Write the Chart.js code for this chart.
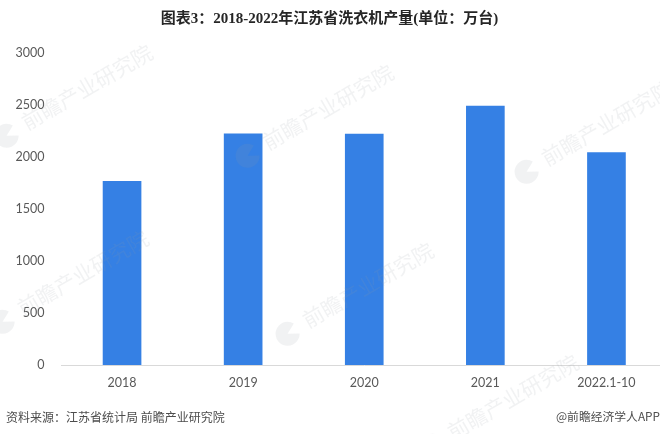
<!DOCTYPE html>
<html>
<head>
<meta charset="utf-8">
<style>
  html, body { margin: 0; padding: 0; background: #fff; }
  body { width: 660px; height: 434px; overflow: hidden; position: relative; }
  canvas { display: block; }
</style>
</head>
<body>
<canvas id="chart" width="667" height="434"></canvas>
<script src="https://cdn.jsdelivr.net/npm/chart.js@4/dist/chart.umd.min.js"></script>
<script>
const categories = ['2018', '2019', '2020', '2021', '2022.1-10'];
const output = [1765, 2222, 2220, 2490, 2042];
const yTicks = [0, 500, 1000, 1500, 2000, 2500, 3000];
const titleText = '图表3：2018-2022年江苏省洗衣机产量(单位：万台)';
const sourceText = '资料来源：江苏省统计局 前瞻产业研究院';
const creditText = '@前瞻经济学人APP';
const markText = '前瞻产业研究院';
const markSpots = [[87, 87], [328, 107], [607, 123], [83, 273], [368, 285], [513, 397]];

const cjkFont = '"Noto Sans CJK SC", "Noto Sans", sans-serif';
const tickFont = 'Lato, "Noto Sans", sans-serif';
const markColor = 'rgba(150,155,160,0.13)';

function drawMark(ctx, x, y) {
  ctx.save();
  ctx.translate(x, y);
  ctx.rotate(-30 * Math.PI / 180);
  ctx.fillStyle = markColor;
  ctx.font = `21px ${cjkFont}`;
  ctx.textAlign = 'center';
  ctx.textBaseline = 'middle';
  ctx.fillText(markText, 0, 0);
  // round logo in front of the text
  ctx.beginPath();
  ctx.arc(-94, 2, 12, 0.5, Math.PI * 2 - 0.5);
  ctx.lineTo(-94, 2);
  ctx.closePath();
  ctx.fill();
  ctx.restore();
}

// watermark goes over the bars, title and footer on top
const pagePlugin = {
  id: 'page',
  afterDatasetsDraw(chart) {
    markSpots.forEach(([x, y]) => drawMark(chart.ctx, x, y));
  },
  afterDraw(chart) {
    const ctx = chart.ctx;
    ctx.save();
    ctx.textBaseline = 'middle';
    ctx.fillStyle = '#262626';
    ctx.font = 'bold 15px "Liberation Serif", "Noto Sans CJK SC", serif';
    ctx.textAlign = 'center';
    ctx.fillText(titleText, 329.5, 19);
    ctx.fillStyle = '#4d4d4d';
    ctx.font = `12px ${cjkFont}`;
    ctx.textAlign = 'left';
    ctx.fillText(sourceText, 6, 417);
    ctx.textAlign = 'right';
    ctx.font = `11.8px ${cjkFont}`;
    ctx.fillText(creditText, 660, 417);
    ctx.restore();
  }
};

new Chart(document.getElementById('chart'), {
  type: 'bar',
  data: {
    labels: categories,
    datasets: [{
      data: output,
      backgroundColor: '#3580e4',
      barThickness: 38
    }]
  },
  options: {
    responsive: false,
    animation: false,
    devicePixelRatio: 1,
    layout: { padding: { top: 53, left: 0, right: 0, bottom: 0 } },
    plugins: {
      legend: { display: false },
      tooltip: { enabled: false }
    },
    scales: {
      x: {
        afterFit(axis) { axis.height = 69; },
        grid: { display: false, drawTicks: false },
        border: { color: '#d9d9d9' },
        ticks: { color: '#595959', font: { size: 12.5, family: tickFont }, padding: 10 }
      },
      y: {
        min: 0,
        max: 3000,
        afterBuildTicks(axis) { axis.ticks = yTicks.map((value) => ({ value })); },
        afterFit(axis) { axis.width = 61.5; },
        grid: { display: false, drawTicks: false },
        border: { display: false },
        ticks: {
          color: '#595959',
          font: { size: 12.5, family: tickFont },
          padding: 17,
          callback: (value) => String(value)
        }
      }
    }
  },
  plugins: [pagePlugin]
});
</script>
</body>
</html>
